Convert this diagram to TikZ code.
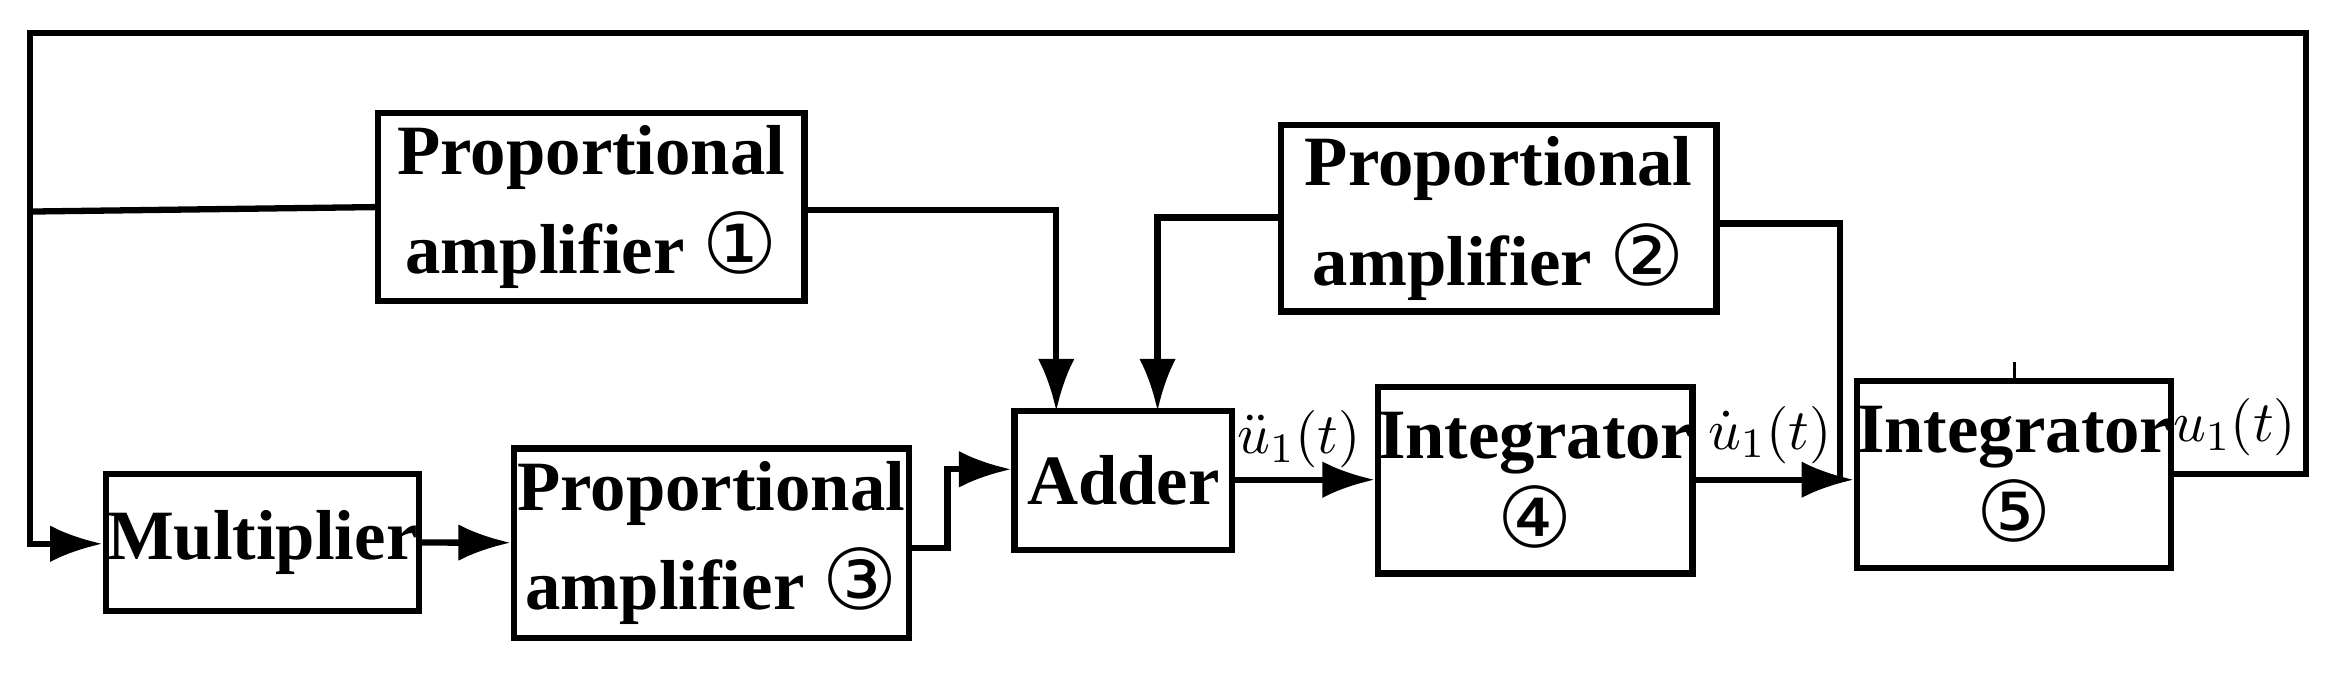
\documentclass[tikz,border=0pt]{standalone}
\usepackage{fontspec}
\setmainfont{Liberation Serif}
\newfontfamily\circf{DejaVu Sans}
\usetikzlibrary{arrows.meta}
\newcommand{\cn}[1]{{\circf\mdseries\fontsize{16}{19}\selectfont #1}}
\begin{document}
\begin{tikzpicture}[x=0.01cm,y=-0.01cm,
 box/.style={draw,line width=1.2pt,inner sep=0pt,font=\bfseries\fontsize{13.5}{19}\selectfont,align=center},
 ln/.style={line width=1.2pt},
 ar/.style={ln,-{Latex[length=10pt,width=7pt]}},
 lab/.style={font=\fontsize{11}{13}\selectfont,inner sep=1pt}]
\useasboundingbox (0,0) rectangle (1568,454);
\node[box,minimum width=2.86cm,minimum height=1.26cm] (pa1) at (397,139) {Proportional\\amplifier \cn{①}};
\node[box,minimum width=2.92cm,minimum height=1.25cm] (pa2) at (1006,146.5) {Proportional\\amplifier \cn{②}};
\node[box,minimum width=2.10cm,minimum height=0.92cm] (mul) at (176,364) {Multiplier};
\node[box,minimum width=2.65cm,minimum height=1.27cm] (pa3) at (477.5,364.5) {Proportional\\amplifier \cn{③}};
\node[box,minimum width=1.46cm,minimum height=0.93cm] (add) at (754,322.5) {Adder};
\node[box,minimum width=2.11cm,minimum height=1.25cm] (i4) at (1030.5,322.5) {Integrator\\[-2pt]\cn{④}};
\node[box,minimum width=2.10cm,minimum height=1.25cm] (i5) at (1352,318.5) {Integrator\\[-2pt]\cn{⑤}};
\coordinate (c1) at (1548,318);
\coordinate (c2) at (1548,22);
\coordinate (c3) at (20,22);
\coordinate (c4) at (20,365);
\coordinate (c5) at (20,142);
\coordinate (j) at (1235,322);
\draw[ar] (i5.east|-c1) -- (c1) -- (c2) -- (c3) -- (c4) -- (mul.west|-c4);
\draw[ln] (c5) -- (pa1.west|-0,139);
\draw[ar] (pa1.east|-0,141) -- (709,141) -- (709,276);
\draw[ar] (pa2.west|-0,146) -- (777,146) -- (777,276);
\draw[ln] (pa2.east|-0,150) -- (1235,150) -- (j);
\draw[ar] (mul) -- (pa3);
\draw[ar] (pa3.east|-0,368) -- (636,368) -- (636,315) -- (add.west|-0,315);
\node[lab] at (872,295) {$\ddot u_{1}(t)$};
\draw[ar] (add.east|-0,322) -- (i4.west|-0,322);
\node[lab] at (1188,292) {$\dot u_{1}(t)$};
\draw[ar] (i4.east|-0,322) -- (i5.west|-0,322);
\node[lab] at (1500,287) {$u_{1}(t)$};
\draw[line width=0.5pt] (1352,243) -- (i5.north);
\end{tikzpicture}
\end{document}
